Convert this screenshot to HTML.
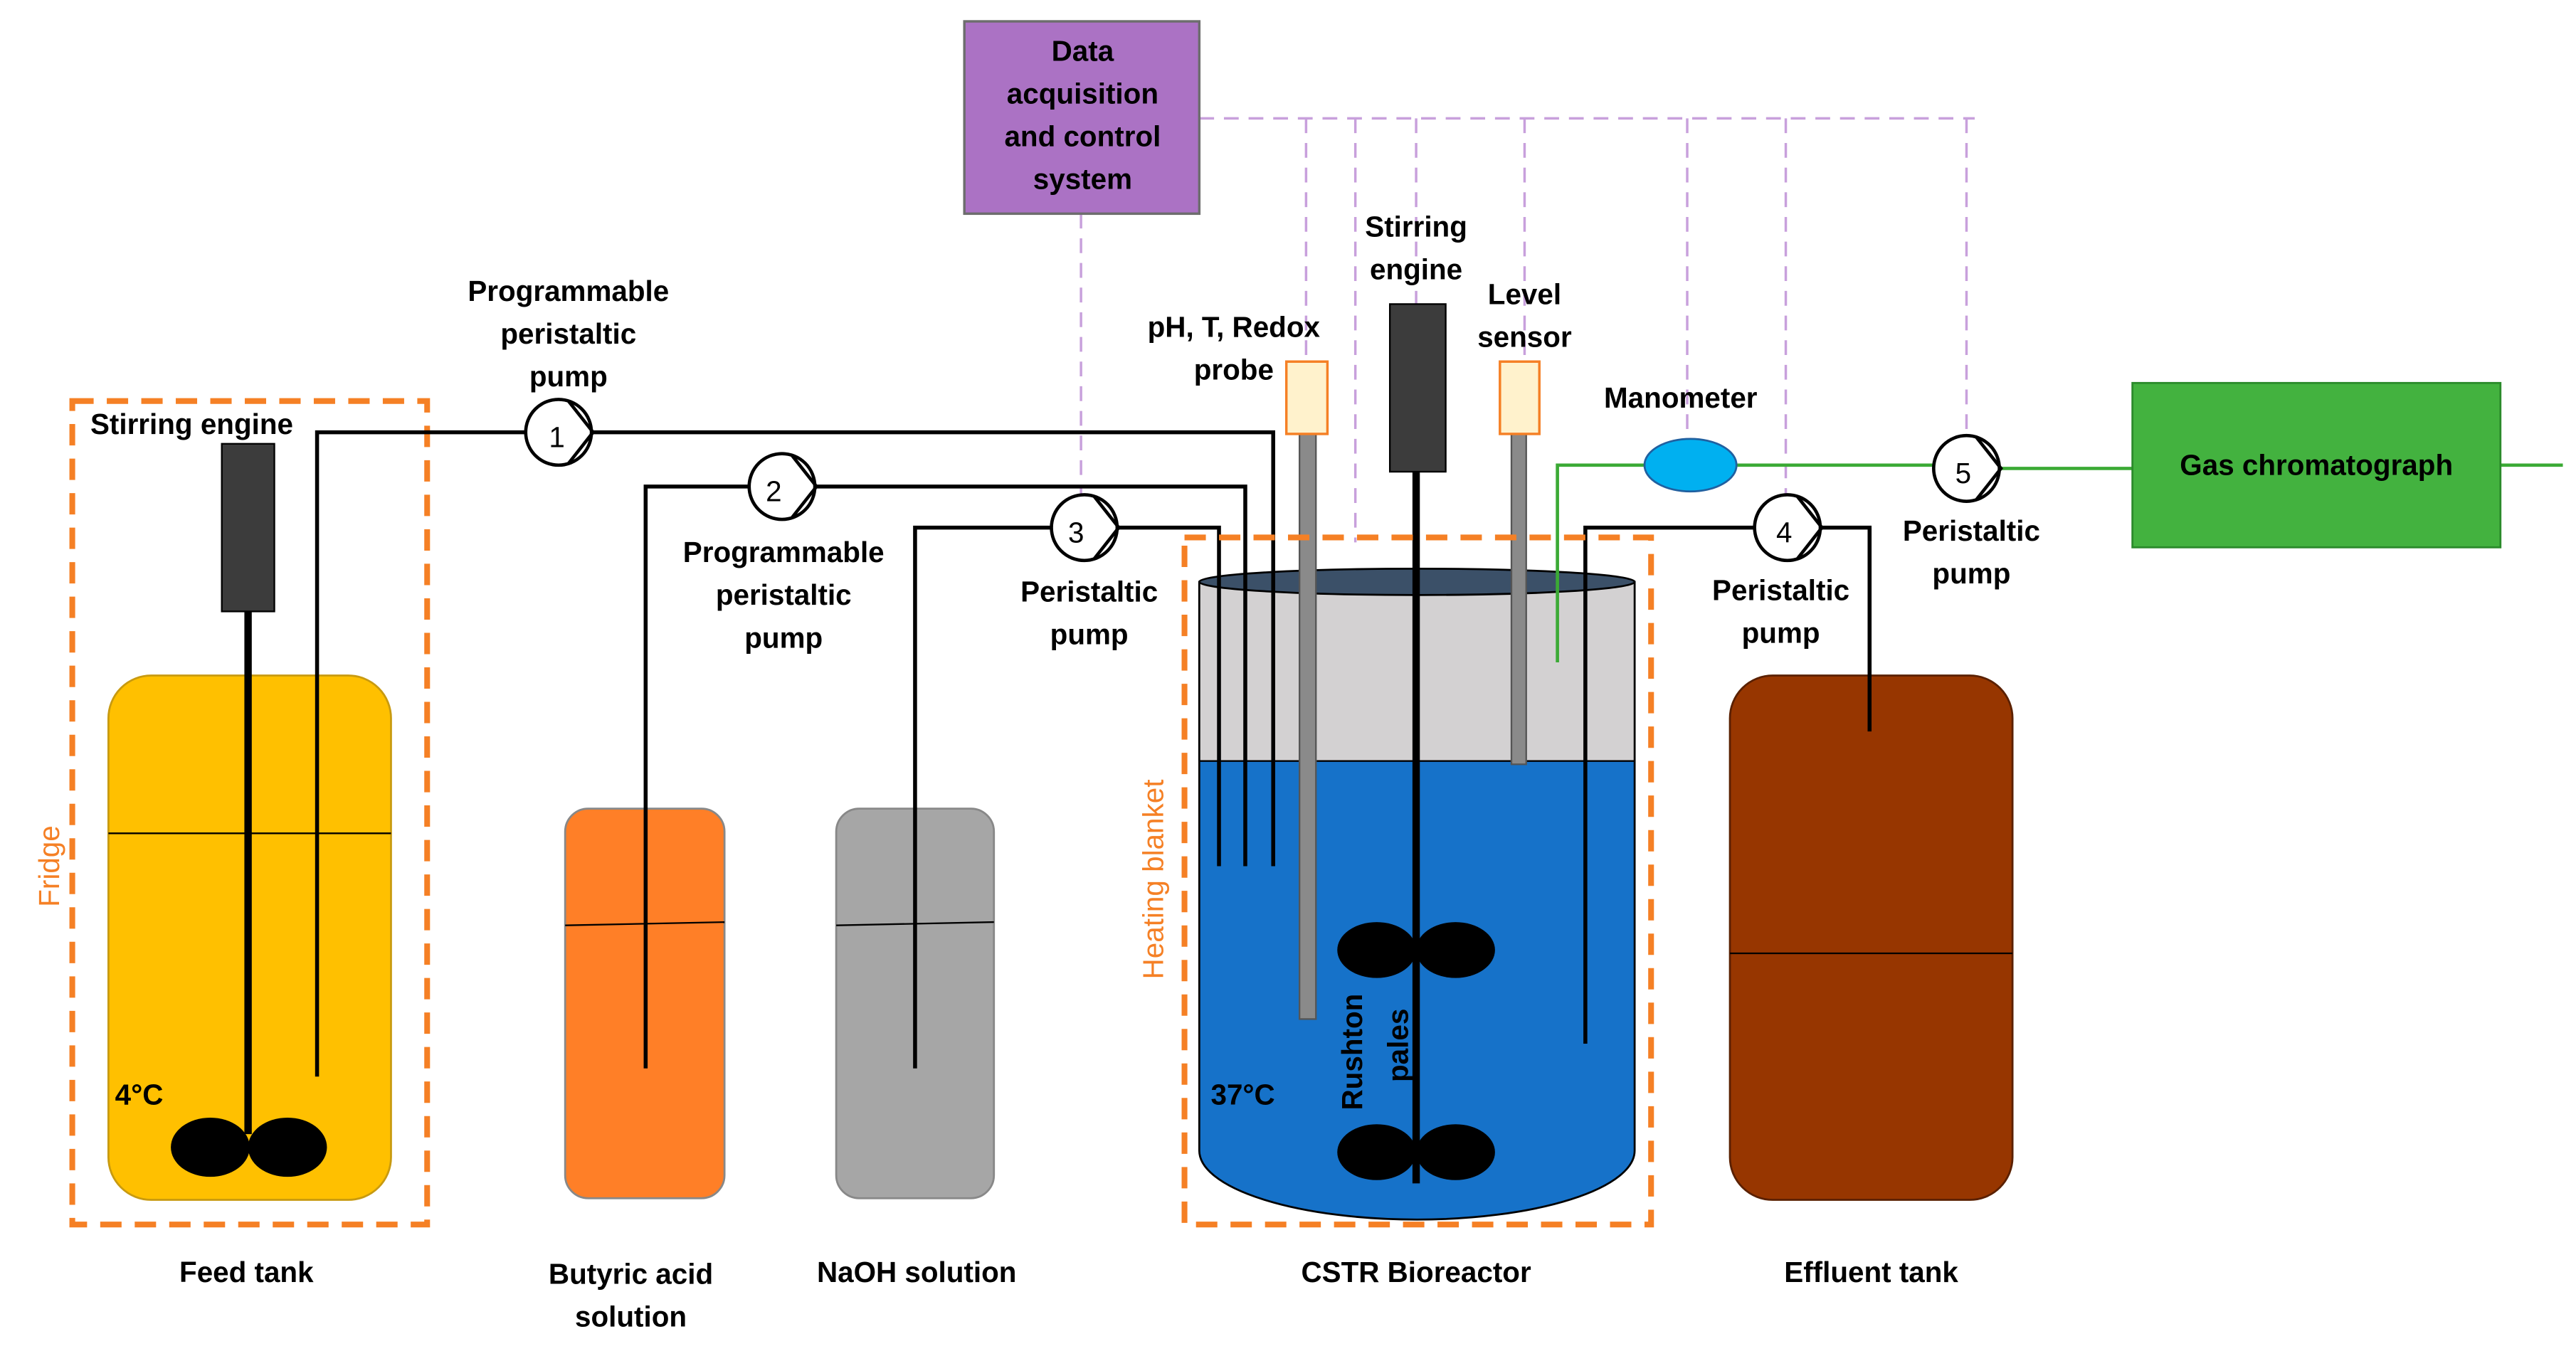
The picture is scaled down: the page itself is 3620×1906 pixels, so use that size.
<!DOCTYPE html>
<html><head><meta charset="utf-8"><style>
html,body{margin:0;padding:0;background:#fff;}
svg{display:block;}
text{font-family:"Liberation Sans",sans-serif;font-weight:bold;font-size:17.5px;fill:#000;}
</style></head><body>
<svg width="3620" height="1906" viewBox="0 0 1568 825" preserveAspectRatio="none" xmlns="http://www.w3.org/2000/svg">
<rect width="1568" height="825" fill="#fff"/>
<g stroke="#C8A0DC" stroke-width="1.5" stroke-dasharray="9,6" fill="none">
<path d="M730 72 H1202"/>
<path d="M795 72 V220"/>
<path d="M825 72 V330"/>
<path d="M862 72 V185"/>
<path d="M928 72 V220"/>
<path d="M1027 72 V267"/>
<path d="M1087 72 V305"/>
<path d="M1197 72 V265"/>
<path d="M658 130 V302"/>
</g>
<rect x="587" y="13" width="143" height="117" fill="#AB72C4" stroke="#6d6d6d" stroke-width="1.5"/>
<text x="659" y="37" text-anchor="middle">Data</text>
<text x="659" y="63" text-anchor="middle">acquisition</text>
<text x="659" y="89" text-anchor="middle">and control</text>
<text x="659" y="115" text-anchor="middle">system</text>

<rect x="66" y="411" width="172" height="319" rx="26" fill="#FFC000" stroke="#C89A10" stroke-width="1.2"/>
<line x1="66" y1="507" x2="238" y2="507" stroke="#000" stroke-width="1"/>
<rect x="135" y="270" width="32" height="102" fill="#3c3c3c" stroke="#000" stroke-width="1"/>
<line x1="151" y1="372" x2="151" y2="690" stroke="#000" stroke-width="4.5"/>
<ellipse cx="128" cy="698" rx="24" ry="18" fill="#000"/>
<ellipse cx="175" cy="698" rx="24" ry="18" fill="#000"/>
<text x="70" y="672" font-size="21">4°C</text>
<rect x="44" y="244" width="216" height="501" fill="none" stroke="#F58025" stroke-width="3.5" stroke-dasharray="13,8"/>
<text x="36" y="527" transform="rotate(-90 36 527)" text-anchor="middle" style="font-weight:normal;fill:#F58025">Fridge</text>
<text x="55" y="264" font-size="18.5">Stirring engine</text>
<text x="150" y="780" text-anchor="middle">Feed tank</text>

<rect x="344" y="492" width="97" height="237" rx="14" fill="#FF7F27" stroke="#888" stroke-width="1.2"/>
<line x1="344" y1="563" x2="441" y2="561" stroke="#000" stroke-width="1"/>
<text x="384" y="781" text-anchor="middle">Butyric acid</text>
<text x="384" y="807" text-anchor="middle">solution</text>
<rect x="509" y="492" width="96" height="237" rx="14" fill="#A6A6A6" stroke="#888" stroke-width="1.2"/>
<line x1="509" y1="563" x2="605" y2="561" stroke="#000" stroke-width="1"/>
<text x="558" y="780" text-anchor="middle">NaOH solution</text>

<path d="M730 354 V700 A132.5 42 0 0 0 995 700 V354 Z" fill="#1672C9" stroke="#000" stroke-width="1.2"/>
<rect x="730" y="354" width="265" height="109" fill="#D3D1D2"/>
<line x1="730" y1="354" x2="730" y2="463" stroke="#000" stroke-width="1.2"/>
<line x1="995" y1="354" x2="995" y2="463" stroke="#000" stroke-width="1.2"/>
<line x1="730" y1="463" x2="995" y2="463" stroke="#000" stroke-width="1"/>
<ellipse cx="862.5" cy="354" rx="132.5" ry="8" fill="#3B5068" stroke="#000" stroke-width="1.2"/>

<g stroke="#000" stroke-width="2.4" fill="none">
<path d="M193 655 V263 H320 M360 263 H775 V527"/>
<path d="M393 650 V296 H456 M496 296 H758 V527"/>
<path d="M557 650 V321 H640 M680 321 H742 V527"/>
<path d="M965 635 V321 H1068 M1108 321 H1138 V445"/>
</g>
<rect x="791" y="264" width="10" height="356" fill="#8a8a8a" stroke="#555" stroke-width="1"/>
<rect x="783" y="220" width="25" height="44" fill="#FFF2CC" stroke="#F58025" stroke-width="1.5"/>
<rect x="920" y="264" width="9" height="201" fill="#8a8a8a" stroke="#555" stroke-width="1"/>
<rect x="913" y="220" width="24" height="44" fill="#FFF2CC" stroke="#F58025" stroke-width="1.5"/>
<rect x="846" y="185" width="34" height="102" fill="#3c3c3c" stroke="#000" stroke-width="1"/>
<line x1="862" y1="287" x2="862" y2="720" stroke="#000" stroke-width="4.5"/>
<ellipse cx="838" cy="578" rx="24" ry="17" fill="#000"/>
<ellipse cx="886" cy="578" rx="24" ry="17" fill="#000"/>
<ellipse cx="838" cy="701" rx="24" ry="17" fill="#000"/>
<ellipse cx="886" cy="701" rx="24" ry="17" fill="#000"/>
<text x="737" y="672" font-size="21">37°C</text>
<text x="829" y="640" transform="rotate(-90 829 640)" text-anchor="middle">Rushton</text>
<text x="857" y="636" transform="rotate(-90 857 636)" text-anchor="middle">pales</text>
<rect x="721" y="327" width="284" height="418" fill="none" stroke="#F58025" stroke-width="3.5" stroke-dasharray="13,8"/>
<text x="708" y="535" transform="rotate(-90 708 535)" text-anchor="middle" style="font-weight:normal;fill:#F58025">Heating blanket</text>
<text x="862" y="780" text-anchor="middle">CSTR Bioreactor</text>

<path d="M948 403 V283 H1001 M1057 283 H1177 M1217 285 H1298 M1522 283 H1560" stroke="#3BAA35" stroke-width="2" fill="none"/>
<ellipse cx="1029" cy="283" rx="28" ry="16" fill="#00B0F0" stroke="#2060a0" stroke-width="1.2"/>
<rect x="1298" y="233" width="224" height="100" fill="#43B23F" stroke="#2a8a2a" stroke-width="1.2"/>
<text x="1410" y="289" text-anchor="middle">Gas chromatograph</text>

<rect x="1053" y="411" width="172" height="319" rx="26" fill="#973600" stroke="#5a2000" stroke-width="1.2"/>
<line x1="1053" y1="580" x2="1225" y2="580" stroke="#000" stroke-width="1"/>
<line x1="1138" y1="321" x2="1138" y2="445" stroke="#000" stroke-width="2.4"/>
<text x="1139" y="780" text-anchor="middle">Effluent tank</text>

<g stroke="#000" stroke-width="2" fill="#fff">
<circle cx="340" cy="263" r="20"/><path d="M346 244 L361 263 L346 282" fill="none"/>
<circle cx="476" cy="296" r="20"/><path d="M482 277 L497 296 L482 315" fill="none"/>
<circle cx="660" cy="321" r="20"/><path d="M666 302 L681 321 L666 340" fill="none"/>
<circle cx="1088" cy="321" r="20"/><path d="M1094 302 L1109 321 L1094 340" fill="none"/>
<circle cx="1197" cy="285" r="20"/><path d="M1203 266 L1218 285 L1203 304" fill="none"/>
</g>
<g text-anchor="middle">
<text x="339" y="272" font-size="22" style="font-weight:normal">1</text>
<text x="471" y="305" font-size="22" style="font-weight:normal">2</text>
<text x="655" y="330" font-size="22" style="font-weight:normal">3</text>
<text x="1086" y="330" font-size="22" style="font-weight:normal">4</text>
<text x="1195" y="294" font-size="22" style="font-weight:normal">5</text>
</g>

<text x="346" y="183" text-anchor="middle">Programmable</text>
<text x="346" y="209" text-anchor="middle">peristaltic</text>
<text x="346" y="235" text-anchor="middle">pump</text>
<text x="477" y="342" text-anchor="middle">Programmable</text>
<text x="477" y="368" text-anchor="middle">peristaltic</text>
<text x="477" y="394" text-anchor="middle">pump</text>
<text x="663" y="366" text-anchor="middle">Peristaltic</text>
<text x="663" y="392" text-anchor="middle">pump</text>
<text x="1084" y="365" text-anchor="middle">Peristaltic</text>
<text x="1084" y="391" text-anchor="middle">pump</text>
<text x="1200" y="329" text-anchor="middle">Peristaltic</text>
<text x="1200" y="355" text-anchor="middle">pump</text>
<text x="751" y="205" text-anchor="middle">pH, T, Redox</text>
<text x="751" y="231" text-anchor="middle">probe</text>
<text x="862" y="144" text-anchor="middle">Stirring</text>
<text x="862" y="170" text-anchor="middle">engine</text>
<text x="928" y="185" text-anchor="middle">Level</text>
<text x="928" y="211" text-anchor="middle">sensor</text>
<text x="1023" y="248" text-anchor="middle" font-size="18.5">Manometer</text>
</svg>
</body></html>
